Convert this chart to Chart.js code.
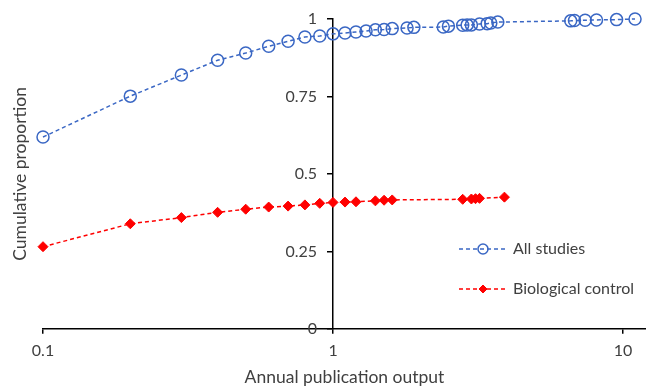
<!DOCTYPE html>
<html>
<head>
<meta charset="utf-8">
<script src="https://cdn.jsdelivr.net/npm/chart.js@4.4.0/dist/chart.umd.min.js"></script>
<style>
  body { margin: 0; background: #fff; }
  #wrap { width: 646px; height: 388px; }
</style>
</head>
<body>
<div id="wrap"><canvas id="cumchart"></canvas></div>
<script>
var seriesNames = ['All studies', 'Biological control'];

// all studies
var allOutput = [0.1, 0.2, 0.3, 0.4, 0.5, 0.6, 0.7, 0.8, 0.9, 1.0, 1.1, 1.2, 1.3, 1.4, 1.5, 1.6, 1.8, 1.9,
                 2.4, 2.5, 2.8, 2.9, 3.0, 3.2, 3.4, 3.5, 3.7, 6.6, 6.8, 7.4, 8.1, 9.5, 11];
var allProportion = [0.619, 0.751, 0.819, 0.867, 0.890, 0.912, 0.928, 0.942, 0.945, 0.952, 0.955, 0.958, 0.961, 0.965, 0.966, 0.969, 0.971, 0.973,
                     0.974, 0.977, 0.980, 0.981, 0.981, 0.984, 0.985, 0.987, 0.990, 0.994, 0.995, 0.996, 0.997, 0.998, 1.0];

// biological control
var bioOutput = [0.1, 0.2, 0.3, 0.4, 0.5, 0.6, 0.7, 0.8, 0.9, 1.0, 1.1, 1.2, 1.4, 1.5, 1.6, 2.8, 3.0, 3.1, 3.2, 3.9];
var bioProportion = [0.265, 0.339, 0.359, 0.376, 0.386, 0.393, 0.396, 0.400, 0.405, 0.408, 0.409, 0.410, 0.413, 0.415, 0.416, 0.418, 0.419, 0.420, 0.421, 0.425];

var xTickValues = [0.1, 1, 10];
var yTickLabels = ['0', '0.25', '0.5', '0.75', '1'];

var textColor = '#404040';
var fontFamily = 'Lato, "Open Sans", sans-serif';

function toPoints(xs, ys) {
    var pts = [];
    for (var i = 0; i < xs.length; i++) {
        pts.push({ x: xs[i], y: ys[i] });
    }
    return pts;
}

function noPadding(scale) {
    scale.paddingLeft = 0;
    scale.paddingRight = 0;
    scale.paddingTop = 0;
    scale.paddingBottom = 0;
}

// y axis sits at x = 1, chart.js puts those labels right on the line, push them left
var yLabelShift = {
    id: 'yLabelShift',
    beforeDraw: function (chart) {
        var s = chart.scales.y;
        var items = s.getLabelItems();
        if (items._shifted) return;
        items.forEach(function (it) {
            it.options.translation[0] -= 16;
        });
        items._shifted = true;
    }
};

// legend inside the plot, dashed line + marker like the excel one
var insideLegend = {
    id: 'insideLegend',
    afterDraw: function (chart) {
        var ctx = chart.ctx;
        var rows = [249, 289];
        var lx = 459, lw = 48;
        chart.data.datasets.forEach(function (ds, i) {
            var y = rows[i];
            ctx.save();
            ctx.strokeStyle = ds.borderColor;
            ctx.lineWidth = ds.borderWidth;
            ctx.setLineDash(ds.borderDash);
            ctx.beginPath();
            ctx.moveTo(lx, y);
            ctx.lineTo(lx + lw, y);
            ctx.stroke();
            ctx.setLineDash([]);
            ctx.fillStyle = ds.pointBackgroundColor;
            ctx.strokeStyle = ds.pointBorderColor;
            ctx.lineWidth = ds.pointBorderWidth;
            Chart.helpers.drawPoint(ctx, {
                pointStyle: ds.pointStyle,
                radius: ds.legendRadius,
                borderWidth: ds.pointBorderWidth,
                rotation: 0
            }, lx + lw / 2, y);
            ctx.fillStyle = textColor;
            ctx.font = '16px ' + fontFamily;
            ctx.textAlign = 'left';
            ctx.textBaseline = 'middle';
            ctx.fillText(ds.label, lx + lw + 6, y);
            ctx.restore();
        });
    }
};

var ctx = document.getElementById('cumchart').getContext('2d');
var cumChart = new Chart(ctx, {
    type: 'line',
    data: {
        datasets: [{
            label: seriesNames[0],
            data: toPoints(allOutput, allProportion),
            yAxisID: 'y',
            borderColor: '#3A67C4',
            borderWidth: 1.5,
            borderDash: [4, 3],
            pointStyle: 'circle',
            pointRadius: 6,
            legendRadius: 5,
            pointBorderWidth: 1.5,
            pointBorderColor: '#3A67C4',
            pointBackgroundColor: 'rgba(255,255,255,0)',
            fill: false,
            tension: 0,
            clip: false
        }, {
            label: seriesNames[1],
            data: toPoints(bioOutput, bioProportion),
            yAxisID: 'y',
            borderColor: '#FF0000',
            borderWidth: 1.5,
            borderDash: [4, 3],
            pointStyle: 'rectRot',
            pointRadius: 5,
            legendRadius: 4,
            pointBorderWidth: 1,
            pointBorderColor: '#FF0000',
            pointBackgroundColor: '#FF0000',
            fill: false,
            tension: 0,
            clip: false
        }]
    },
    options: {
        responsive: true,
        maintainAspectRatio: false,
        animation: false,
        layout: { autoPadding: false, padding: { top: 19, right: 0, bottom: 0, left: 5 } },
        plugins: {
            legend: { display: false },
            tooltip: { enabled: false }
        },
        scales: {
            x: {
                type: 'logarithmic',
                position: 'bottom',
                min: 0.1,
                max: 12,
                afterBuildTicks: function (scale) {
                    scale.ticks = xTickValues.map(function (v) { return { value: v }; });
                },
                afterFit: noPadding,
                ticks: {
                    autoSkip: false,
                    maxRotation: 0,
                    padding: 7,
                    color: textColor,
                    font: { family: fontFamily, size: 16 },
                    callback: function (v) { return String(v); }
                },
                grid: { drawOnChartArea: false, drawTicks: true, tickLength: 5, color: '#000', lineWidth: 1.5 },
                border: { color: '#000', width: 1.5 },
                title: {
                    display: true,
                    text: 'Annual publication output',
                    color: textColor,
                    font: { family: fontFamily, size: 17.5 },
                    padding: { top: 0, bottom: 0 }
                }
            },
            y: {
                type: 'linear',
                position: { x: 1 },
                min: 0,
                max: 1,
                afterFit: noPadding,
                ticks: {
                    stepSize: 0.25,
                    padding: 11,
                    color: textColor,
                    font: { family: fontFamily, size: 16 },
                    callback: function (v, i) { return yTickLabels[i]; }
                },
                grid: { drawOnChartArea: false, drawTicks: true, tickLength: 5, color: '#000', lineWidth: 1.5 },
                border: { color: '#000', width: 1.5 }
            },
            yTitle: {
                type: 'linear',
                position: 'left',
                min: 0,
                max: 1,
                afterFit: noPadding,
                ticks: { display: false },
                grid: { display: false, drawTicks: false },
                border: { display: false },
                title: {
                    display: true,
                    text: 'Cumulative proportion',
                    color: textColor,
                    font: { family: fontFamily, size: 17.5 },
                    padding: { top: 4.5, bottom: 12.5 }
                }
            }
        }
    },
    plugins: [yLabelShift, insideLegend]
});
</script>
</body>
</html>
